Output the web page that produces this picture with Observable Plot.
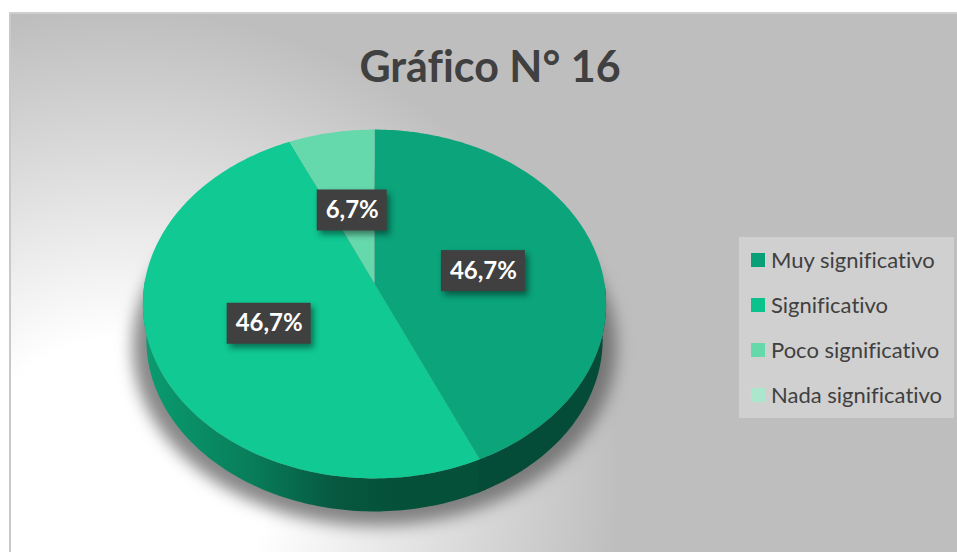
<!DOCTYPE html>
<html>
<head>
<meta charset="utf-8">
<script src="https://cdn.jsdelivr.net/npm/d3@7"></script>
<script src="https://cdn.jsdelivr.net/npm/@observablehq/plot@0.6"></script>
<style>
  html, body { margin: 0; padding: 0; background: #fff; }
  #stage { position: relative; width: 957px; height: 552px; overflow: hidden; font-family: Lato, "Open Sans", sans-serif; font-variant-ligatures: none; }
  #panel { position: absolute; left: 9px; top: 12px; right: 0; bottom: 0; box-sizing: border-box;
           border-left: 2px solid #c9c9c9; border-top: 2px solid #cfcfcf;
           background: radial-gradient(ellipse 500px 470px at 110px 466px, #ffffff 30%, #bebebe 100%); }
  #chart { position: absolute; left: 0; top: 0; }
  #chart text { font-variant-ligatures: none; }
  .blurred { filter: blur(8px); }
  .boxshadow { filter: drop-shadow(3px 4px 3px rgba(0,0,0,.45)); }
  #legend { position: absolute; left: 739px; top: 237px; width: 215px; height: 181px; background: #d0d0d0; }
  .row { position: absolute; left: 0; height: 20px; line-height: 20px; color: #404040; font-size: 22px; white-space: nowrap; }
  .sw { position: absolute; left: 12px; top: 3px; width: 14px; height: 14px; }
  .lb { position: absolute; left: 32px; top: 0; }
</style>
</head>
<body>
<div id="stage"><div id="panel"></div><div id="chart"></div><div id="legend"></div></div>
<script>
const titleText = "Gráfico N° 16";
const categories = ["Muy significativo", "Significativo", "Poco significativo", "Nada significativo"];
const sliceShares = [43.3, 50, 6.7, 0];
const labelTexts = ["46,7%", "46,7%", "6,7%", ""];
const sliceColors = ["#0ba47b", "#10c993", "#66d9ac", "#ace6cc"];
const legendColors = ["#09a078", "#0ac38c", "#66d9ab", "#ace6cc"];
const rimColors = ["#044c37", "url(#rimGrad)"];

const tilt = 0.1175, depthShift = 0.209, depthScale = 0.985;
const rad = d => d * Math.PI / 180;
const project = (deg, r = 1) => {
  const u = r * Math.sin(rad(deg)), v = r * Math.cos(rad(deg)), w = 1 + tilt * v;
  return [u / w, v / w];
};
const lower = ([x, y]) => [x * depthScale, y * depthScale - depthShift];

let acc = 0;
const slices = categories.map((category, i) => {
  const start = acc / 100 * 360;
  acc += sliceShares[i];
  return {category, start, end: acc / 100 * 360, label: labelTexts[i]};
});

const topRows = slices.filter(s => s.end > s.start).flatMap(s => {
  const rows = [{category: s.category, x: 0, y: 0}];
  for (const a of d3.range(s.start, s.end, 1).concat(s.end)) {
    const [x, y] = project(a);
    rows.push({category: s.category, x, y});
  }
  return rows;
});

const rimSegment = (key, from, to) => {
  const as = d3.range(from, to, 1).concat(to);
  return [
    ...as.map(a => { const [x, y] = project(a); return {key, x, y}; }),
    ...as.slice().reverse().map(a => { const [x, y] = lower(project(a)); return {key, x, y}; })
  ];
};
const splitAngle = slices[0].end;
const rimRows = [...rimSegment(0, 90, splitAngle), ...rimSegment(1, splitAngle - 2, 272)];

const shadowRows = d3.range(0, 360, 2).map(a => {
  const [x, y] = lower(project(a));
  return {x: x * 1.06, y: y * 1.04 - 0.03};
});

const labelRows = slices.filter(s => s.label).map(s => {
  const [x, y] = project((s.start + s.end) / 2, 0.49);
  return {x, y: y - 5 / 172, label: s.label, halfW: s.label.length > 4 ? 42 / 230 : 35 / 230, halfH: 20.5 / 172};
});

const chart = Plot.plot({
  width: 957, height: 552,
  margin: 0,
  style: {background: "transparent", overflow: "visible"},
  x: {domain: [-1, 1], range: [144, 604], axis: null},
  y: {domain: [-1, 1], range: [455, 111], axis: null},
  color: {domain: categories, range: sliceColors},
  marks: [
    Plot.line(shadowRows, {x: "x", y: "y", fill: "#555", fillOpacity: 0.7, stroke: "none", className: "blurred"}),
    Plot.line(rimRows.filter(d => d.key === 1), {x: "x", y: "y", fill: rimColors[1], stroke: "none"}),
    Plot.line(rimRows.filter(d => d.key === 0), {x: "x", y: "y", fill: rimColors[0], stroke: "none"}),
    Plot.line(topRows, {x: "x", y: "y", z: "category", fill: "category", stroke: "none"}),
    Plot.rect(labelRows, {x1: d => d.x - d.halfW, x2: d => d.x + d.halfW, y1: d => d.y - d.halfH, y2: d => d.y + d.halfH,
      fill: "#404040", className: "boxshadow"}),
    Plot.text(labelRows, {x: "x", y: "y", text: "label", fill: "#fff", fontSize: 24, fontWeight: 700, fontFamily: "Lato"}),
    Plot.text([titleText], {frameAnchor: "top", dx: 11, dy: 68, lineAnchor: "middle", fill: "#404040", fontSize: 43, fontWeight: 700, fontFamily: "Lato"})
  ]
});

const defs = d3.select(chart).insert("defs", ":first-child");
const grad = defs.append("linearGradient").attr("id", "rimGrad").attr("gradientUnits", "userSpaceOnUse")
  .attr("x1", 143).attr("x2", 400).attr("y1", 0).attr("y2", 0);
[["0%", "#0a9c70"], ["40%", "#087f5a"], ["75%", "#06583f"], ["100%", "#055039"]].forEach(([o, c]) =>
  grad.append("stop").attr("offset", o).attr("stop-color", c));
document.getElementById("chart").appendChild(chart);

const legend = document.getElementById("legend");
categories.forEach((c, i) => {
  const row = document.createElement("div");
  row.className = "row";
  row.style.top = (13 + i * 45) + "px";
  row.innerHTML = `<span class="sw" style="background:${legendColors[i]}"></span><span class="lb">${c}</span>`;
  legend.appendChild(row);
});
</script>
</body>
</html>
